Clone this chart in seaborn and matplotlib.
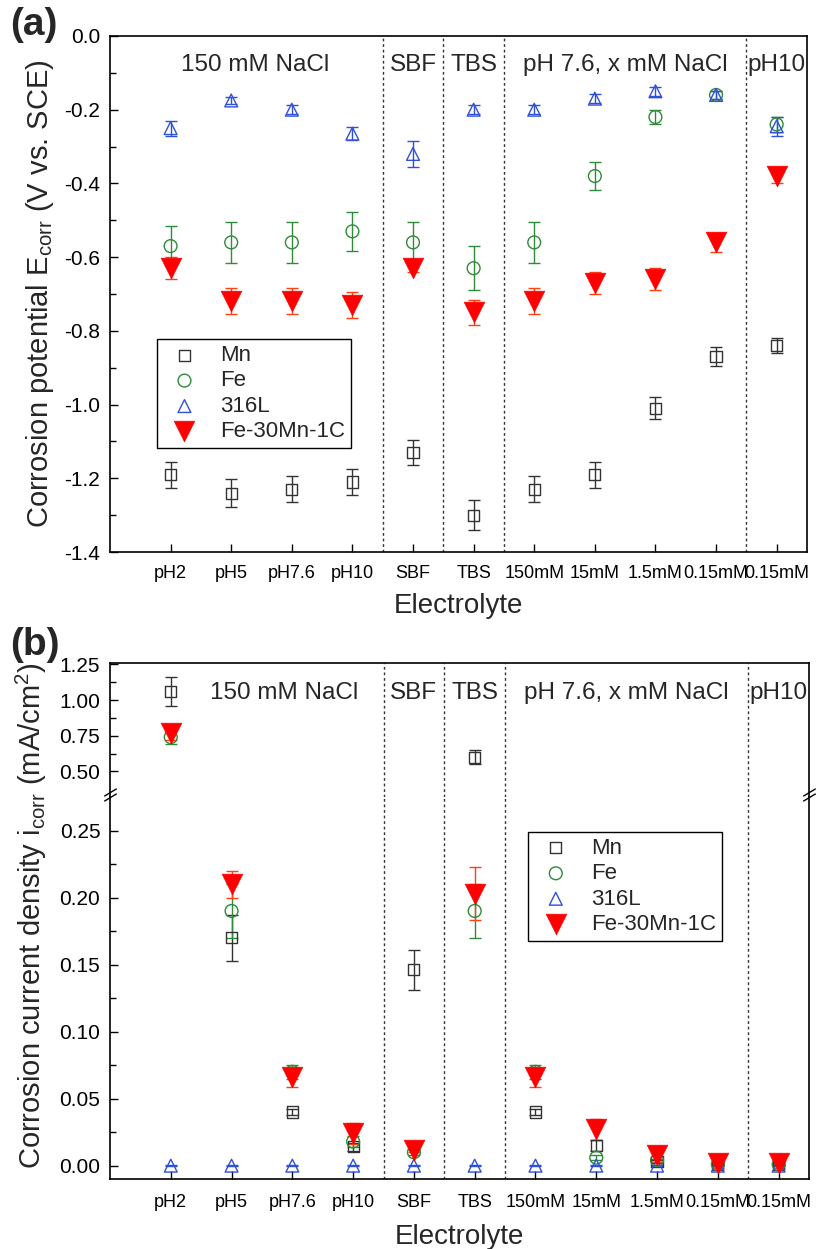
import numpy as np
import pandas as pd
import matplotlib
matplotlib.use("Agg")
import matplotlib.pyplot as plt
import seaborn as sns

# ---- data ----
labels = ["pH2", "pH5", "pH7.6", "pH10", "SBF", "TBS",
          "150mM", "15mM", "1.5mM", "0.15mM", "0.15mM"]
series = ["Mn", "Fe", "316L", "Fe-30Mn-1C"]

# (a) corrosion potential, V vs SCE
ecorr_mn = [-1.19, -1.24, -1.23, -1.21, -1.13, -1.30, -1.23, -1.19, -1.01, -0.87, -0.84]
ecorr_mn_err = [0.035, 0.038, 0.035, 0.035, 0.035, 0.04, 0.035, 0.035, 0.03, 0.025, 0.02]
ecorr_fe = [-0.57, -0.56, -0.56, -0.53, -0.56, -0.63, -0.56, -0.38, -0.22, -0.16, -0.24]
ecorr_fe_err = [0.055, 0.055, 0.055, 0.052, 0.055, 0.06, 0.055, 0.038, 0.02, 0.01, 0.02]
ecorr_316 = [-0.25, -0.175, -0.20, -0.265, -0.32, -0.20, -0.20, -0.17, -0.15, -0.16, -0.245]
ecorr_316_err = [0.02, 0.01, 0.012, 0.018, 0.035, 0.012, 0.012, 0.012, 0.012, 0.01, 0.025]
ecorr_femn = [-0.63, -0.72, -0.72, -0.73, -0.63, -0.75, -0.72, -0.67, -0.66, -0.56, -0.38]
ecorr_femn_err = [0.03, 0.035, 0.035, 0.035, 0.01, 0.035, 0.035, 0.03, 0.03, 0.025, 0.02]

# (b) corrosion current density, mA/cm2
icorr_mn = [1.06, 0.17, 0.04, 0.014, 0.146, 0.60, 0.04, 0.015, 0.003, 0.001, 0.001]
icorr_mn_err = [0.1, 0.017, 0.002, 0.003, 0.015, 0.05, 0.002, 0.004, 0.001, 0.0005, 0.0005]
icorr_fe = [0.74, 0.19, 0.07, 0.018, 0.01, 0.19, 0.07, 0.006, 0.004, 0.001, 0.001]
icorr_fe_err = [0.05, 0.02, 0.005, 0.004, 0.002, 0.02, 0.005, 0.002, 0.001, 0.0005, 0.0005]
icorr_316 = [0, 0, 0, 0, 0, 0, 0, 0, 0, 0, 0]
icorr_316_err = [0.0005] * 11
icorr_femn = [0.77, 0.21, 0.066, 0.024, 0.012, 0.203, 0.066, 0.027, 0.008, 0.002, 0.002]
icorr_femn_err = [0.05, 0.01, 0.007, 0.008, 0.002, 0.02, 0.007, 0.008, 0.005, 0.004, 0.004]

groups = ["150 mM NaCl", "SBF", "TBS", "pH 7.6, x mM NaCl", "pH10"]
group_x_a = [2.4, 5, 6, 8.5, 11]
group_x_b = [2.86, 5, 6, 8.5, 11]
separators = [4.5, 5.5, 6.5, 10.5]

# ---- style ----
sns.set_theme(style="white")
plt.rcParams["font.family"] = ["Liberation Sans", "DejaVu Sans"]
plt.rcParams["mathtext.fontset"] = "custom"
plt.rcParams["mathtext.rm"] = "Liberation Sans"
plt.rcParams["mathtext.it"] = "Liberation Sans"
plt.rcParams["xtick.direction"] = "in"
plt.rcParams["ytick.direction"] = "in"

colors = {"Mn": "#333333", "Fe": "#2f8a3a", "316L": "#3050d8", "Fe-30Mn-1C": "#ff0000"}
err_colors = {"Mn": "#333333", "Fe": "#2f8a3a", "316L": "#3050d8", "Fe-30Mn-1C": "#ff4010"}
markers = {"Mn": "s", "Fe": "o", "316L": "^", "Fe-30Mn-1C": "v"}
sizes = {"Mn": 64, "Fe": 85, "316L": 85, "Fe-30Mn-1C": 220}

x = np.arange(1, len(labels) + 1)


def make_df(vals, errs):
    rows = []
    for name, v, e in zip(series, vals, errs):
        for xi, vi, ei in zip(x, v, e):
            rows.append({"x": xi, "y": vi, "err": ei, "material": name})
    return pd.DataFrame(rows)


df_a = make_df([ecorr_mn, ecorr_fe, ecorr_316, ecorr_femn],
               [ecorr_mn_err, ecorr_fe_err, ecorr_316_err, ecorr_femn_err])
df_b = make_df([icorr_mn, icorr_fe, icorr_316, icorr_femn],
               [icorr_mn_err, icorr_fe_err, icorr_316_err, icorr_femn_err])


def draw_series(ax, df, legend=True):
    for name in series:
        d = df[df["material"] == name]
        ax.errorbar(d["x"], d["y"], yerr=d["err"], fmt="none",
                    ecolor=err_colors[name], elinewidth=1, capsize=4, capthick=1, zorder=2)
        if name == "Fe-30Mn-1C":
            sns.scatterplot(data=d, x="x", y="y", ax=ax, marker=markers[name],
                            s=sizes[name], color=colors[name], edgecolor=colors[name],
                            linewidth=0.5, label=name if legend else None, zorder=3)
        else:
            sns.scatterplot(data=d, x="x", y="y", ax=ax, marker=markers[name],
                            s=sizes[name], facecolor="none", edgecolor=colors[name],
                            color=colors[name], linewidth=1.0,
                            label=name if legend else None, zorder=3)


def decorate(ax):
    for s in ax.spines.values():
        s.set_color("black")
        s.set_linewidth(1.2)
    for sx in separators:
        ax.axvline(sx, color="#333333", lw=1, ls=(0, (2, 2)), zorder=1)
    ax.set_xlim(0, 11.5)
    ax.tick_params(axis="both", which="both", left=True, bottom=True, colors="black")
    ax.tick_params(axis="x", labelsize=13, pad=9)
    ax.tick_params(axis="y", labelsize=15, pad=7)
    ax.tick_params(which="major", length=6, width=1)
    ax.tick_params(which="minor", length=4, width=1)


def legend(ax, anchor):
    leg = ax.legend(loc="upper left", bbox_to_anchor=anchor, fontsize=16,
                    frameon=True, fancybox=False, framealpha=1, edgecolor="black",
                    borderpad=0.25, labelspacing=0.2, handletextpad=0.6,
                    handlelength=2.0, borderaxespad=0)
    leg.get_frame().set_linewidth(1)
    return leg


fig = plt.figure(figsize=(8.19, 12.49), dpi=100)

# ---------------- panel (a) ----------------
ax_a = fig.add_axes([0.1343, 0.558, 0.851, 0.4132])
draw_series(ax_a, df_a)
decorate(ax_a)
yt = np.round(np.arange(-1.4, 0.01, 0.2), 1)
ax_a.set_ylim(-1.4, 0.0)
ax_a.set_yticks(yt)
ax_a.set_yticks(np.arange(-1.3, 0.0, 0.2), minor=True)
ax_a.set_yticklabels([f"{v + 0.0:.1f}" for v in yt])
ax_a.set_xticks(x)
ax_a.set_xticklabels(labels)
ax_a.set_xlabel("Electrolyte", fontsize=20, labelpad=8)
ax_a.set_ylabel("Corrosion potential E$_{\\mathrm{corr}}$ (V vs. SCE)", fontsize=21, labelpad=6)
for g, gx in zip(groups, group_x_a):
    ax_a.text(gx, -0.08, g, ha="center", va="center", fontsize=17.5)
legend(ax_a, (0.067, 0.412))
fig.text(0.012, 0.98, "(a)", fontsize=28, fontweight="bold", va="center")

# ---------------- panel (b), broken axis ----------------
ax_bt = fig.add_axes([0.1343, 0.3619, 0.8535, 0.1073])
ax_bb = fig.add_axes([0.1343, 0.056, 0.8535, 0.3059], sharex=ax_bt)
draw_series(ax_bt, df_b, legend=False)
draw_series(ax_bb, df_b)
decorate(ax_bt)
decorate(ax_bb)

ax_bt.set_ylim(0.32, 1.26)
ax_bt.set_yticks([0.5, 0.75, 1.0, 1.25])
ax_bt.set_yticks([0.625, 0.875, 1.125], minor=True)
ax_bt.set_yticklabels(["0.50", "0.75", "1.00", "1.25"])
ax_bt.spines["bottom"].set_visible(False)
ax_bt.tick_params(axis="x", which="both", bottom=False, labelbottom=False)
ax_bt.set_xlabel("")
ax_bt.set_ylabel("")

yb = np.round(np.arange(0, 0.26, 0.05), 2)
ax_bb.set_ylim(-0.01, 0.275)
ax_bb.set_yticks(yb)
ax_bb.set_yticks(np.arange(0.025, 0.26, 0.05), minor=True)
ax_bb.set_yticklabels([f"{v:.2f}" for v in yb])
ax_bb.spines["top"].set_visible(False)
ax_bb.set_xticks(x)
ax_bb.set_xticklabels(labels)
ax_bb.tick_params(axis="x", pad=11)
ax_bb.set_xlabel("Electrolyte", fontsize=20, labelpad=9)
ax_bb.set_ylabel("")

# break marks on left and right spines
kw = dict(marker=[(-1, -0.6), (1, 0.6)], markersize=9, linestyle="none",
          color="black", mec="black", mew=1, clip_on=False)
ax_bb.plot([0, 1], [1, 1], transform=ax_bb.transAxes, **kw)
ax_bb.plot([0, 1], [1.012, 1.012], transform=ax_bb.transAxes, **kw)

for g, gx in zip(groups, group_x_b):
    ax_bt.text(gx, 1.05, g, ha="center", va="center", fontsize=17.5)

fig.text(0.038, 0.267, "Corrosion current density i$_{\\mathrm{corr}}$ (mA/cm$^{2}$)",
         rotation=90, ha="center", va="center", fontsize=21)

legend(ax_bb, (0.598, 0.908))
fig.text(0.012, 0.4836, "(b)", fontsize=28, fontweight="bold", va="center")

fig.savefig("out.png", dpi=100)
